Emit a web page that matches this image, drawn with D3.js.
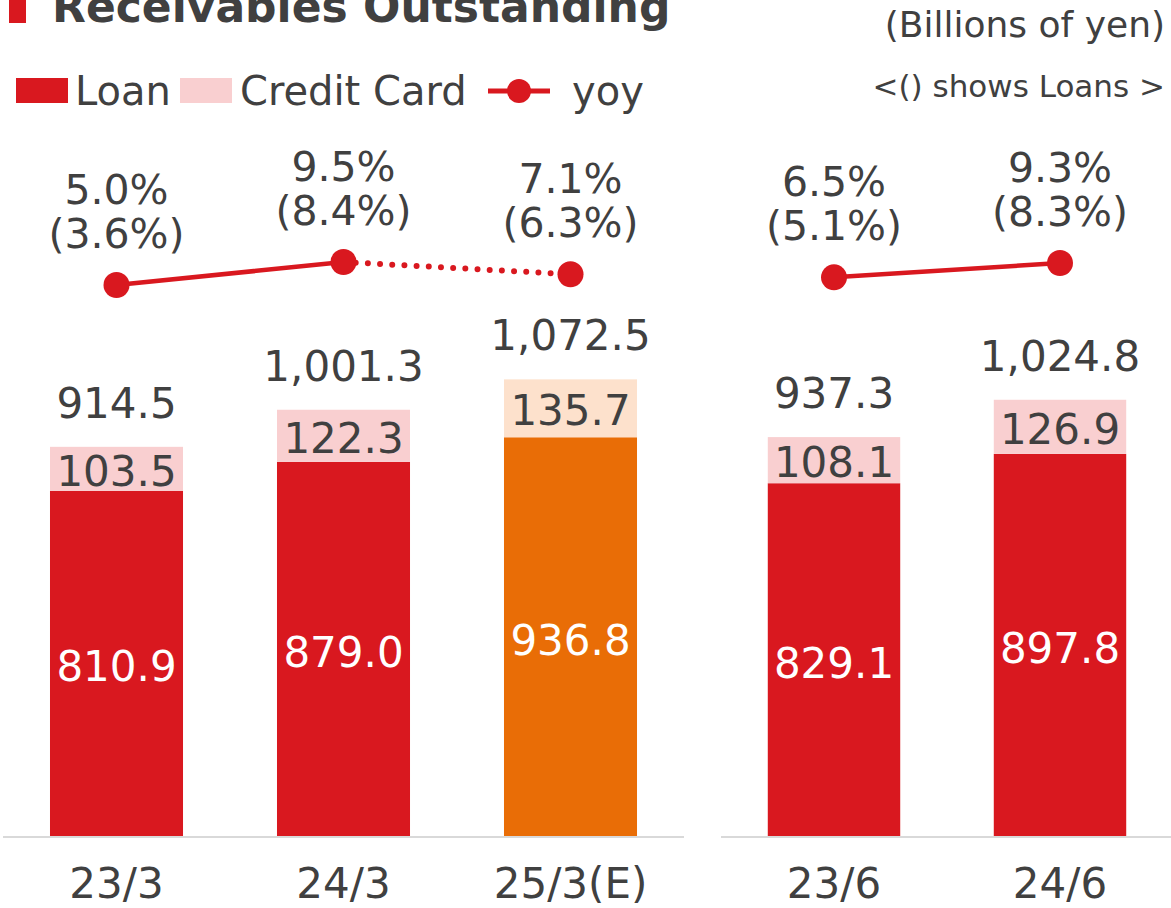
<!DOCTYPE html>
<html>
<head>
<meta charset="utf-8">
<script src="https://cdn.jsdelivr.net/npm/d3@7"></script>
<style>
  body { margin: 0; background: #fff; }
  svg text { font-family: "DejaVu Sans", Verdana, sans-serif; fill: #404040; }
</style>
</head>
<body>
<svg id="chart" width="1171" height="908"></svg>
<script>
/*************************Data********************* */
const periods = ["23/3", "24/3", "25/3(E)", "23/6", "24/6"];
const panels = ["fy", "fy", "fy", "q1", "q1"];
const loan = [810.9, 879.0, 936.8, 829.1, 897.8];
const credit = [103.5, 122.3, 135.7, 108.1, 126.9];
const totalLabels = ["914.5", "1,001.3", "1,072.5", "937.3", "1,024.8"];
const yoy = [5.0, 9.5, 7.1, 6.5, 9.3];
const yoyLoan = [3.6, 8.4, 6.3, 5.1, 8.3];
const estimate = [false, false, true, false, false];

const colors = {
  loan: "#d9181f",
  credit: "#f9cfd0",
  loanE: "#e96d06",
  creditE: "#fde1cc",
  line: "#d9181f",
  text: "#404040",
  axis: "#d9d9d9",
};

/*************************Scales********************* */
const svg = d3.select("svg#chart");
const baseY = 837;

const fyIdx = periods.filter((_, i) => panels[i] === "fy");
const q1Idx = periods.filter((_, i) => panels[i] === "q1");

const xFy = d3.scaleBand().domain(fyIdx).range([3, 684]).paddingInner(0.414).paddingOuter(0.207);
const xQ1 = d3.scaleBand().domain(q1Idx).range([721, 1173]).paddingInner(0.414).paddingOuter(0.207);
const xOf = (i) => (panels[i] === "fy" ? xFy : xQ1);
const xLeft = (i) => xOf(i)(periods[i]);
const xMid = (i) => xOf(i)(periods[i]) + xOf(i).bandwidth() / 2;

const y = d3.scaleLinear().domain([0, 1000]).range([baseY, 410.3]);
const yLine = d3.scaleLinear().domain([5, 9.5]).range([285, 262]);

/*************************Title & Legend********************* */
svg.append("rect").attr("x", 9).attr("y", 0).attr("width", 17).attr("height", 23).attr("fill", colors.loan);
svg.append("text").text("Receivables Outstanding").attr("x", 52).attr("y", 22)
  .style("font-weight", "bold").style("font-size", "44px");

svg.append("text").text("(Billions of yen)").attr("x", 1165).attr("y", 37)
  .attr("text-anchor", "end").style("font-size", "36px");
svg.append("text").text("<() shows Loans >").attr("x", 1165).attr("y", 97)
  .attr("text-anchor", "end").style("font-size", "31px");

const legend = svg.append("g").attr("class", "legend");
legend.append("rect").attr("x", 16).attr("y", 78).attr("width", 52).attr("height", 25).attr("fill", colors.loan);
legend.append("text").text("Loan").attr("x", 75).attr("y", 105).style("font-size", "40px");
legend.append("rect").attr("x", 180).attr("y", 78).attr("width", 52).attr("height", 25).attr("fill", colors.credit);
legend.append("text").text("Credit Card").attr("x", 240).attr("y", 105).style("font-size", "40px");
legend.append("line").attr("x1", 488).attr("x2", 550).attr("y1", 91).attr("y2", 91)
  .attr("stroke", colors.line).attr("stroke-width", 5);
legend.append("circle").attr("cx", 519).attr("cy", 91).attr("r", 12).attr("fill", colors.line);
legend.append("text").text("yoy").attr("x", 572).attr("y", 105).style("font-size", "40px");

/*************************Bars********************* */
const idx = d3.range(periods.length);
const bars = svg.append("g").attr("class", "bars");

bars.selectAll("rect.loan")
  .data(idx)
  .join("rect")
  .attr("class", "loan")
  .attr("x", (i) => xLeft(i))
  .attr("width", (i) => xOf(i).bandwidth())
  .attr("y", (i) => y(loan[i]))
  .attr("height", (i) => y(0) - y(loan[i]))
  .attr("fill", (i) => (estimate[i] ? colors.loanE : colors.loan));

bars.selectAll("rect.credit")
  .data(idx)
  .join("rect")
  .attr("class", "credit")
  .attr("x", (i) => xLeft(i))
  .attr("width", (i) => xOf(i).bandwidth())
  .attr("y", (i) => y(loan[i] + credit[i]))
  .attr("height", (i) => y(loan[i]) - y(loan[i] + credit[i]))
  .attr("fill", (i) => (estimate[i] ? colors.creditE : colors.credit));

// baselines
svg.append("line").attr("x1", 3).attr("x2", 684).attr("y1", baseY).attr("y2", baseY)
  .attr("stroke", colors.axis).attr("stroke-width", 2);
svg.append("line").attr("x1", 721).attr("x2", 1171).attr("y1", baseY).attr("y2", baseY)
  .attr("stroke", colors.axis).attr("stroke-width", 2);

/*************************Bar labels********************* */
const labels = svg.append("g").attr("class", "labels").attr("text-anchor", "middle").style("font-size", "42px");

labels.selectAll("text.loanLbl")
  .data(idx)
  .join("text")
  .attr("class", "loanLbl")
  .attr("x", (i) => xMid(i))
  .attr("y", (i) => (y(0) + y(loan[i])) / 2 + 17.5)
  .style("fill", "#fff")
  .text((i) => loan[i].toFixed(1));

labels.selectAll("text.creditLbl")
  .data(idx)
  .join("text")
  .attr("class", "creditLbl")
  .attr("x", (i) => xMid(i))
  .attr("y", (i) => (y(loan[i]) + y(loan[i] + credit[i])) / 2 + 17)
  .text((i) => credit[i].toFixed(1));

labels.selectAll("text.totalLbl")
  .data(idx)
  .join("text")
  .attr("class", "totalLbl")
  .attr("x", (i) => xMid(i))
  .attr("y", (i) => y(loan[i] + credit[i]) - 29)
  .text((i) => totalLabels[i]);

labels.selectAll("text.catLbl")
  .data(idx)
  .join("text")
  .attr("class", "catLbl")
  .attr("x", (i) => xMid(i))
  .attr("y", 898)
  .text((i) => periods[i]);

/*************************YoY line********************* */
const lineG = svg.append("g").attr("class", "yoy");
const seg = (a, b, dotted) => {
  lineG.append("line")
    .attr("x1", xMid(a)).attr("y1", yLine(yoy[a]))
    .attr("x2", xMid(b)).attr("y2", yLine(yoy[b]))
    .attr("stroke", colors.line)
    .attr("stroke-width", dotted ? 6 : 4.5)
    .attr("stroke-linecap", "round")
    .attr("stroke-dasharray", dotted ? "0 12.2" : null);
};
seg(0, 1, false);
seg(1, 2, true);
seg(3, 4, false);

lineG.selectAll("circle")
  .data(idx)
  .join("circle")
  .attr("cx", (i) => xMid(i))
  .attr("cy", (i) => yLine(yoy[i]))
  .attr("r", 13)
  .attr("fill", colors.line);

const pct = svg.append("g").attr("class", "pct").attr("text-anchor", "middle").style("font-size", "41px");
pct.selectAll("text.yoyLbl")
  .data(idx)
  .join("text")
  .attr("class", "yoyLbl")
  .attr("x", (i) => xMid(i))
  .attr("y", (i) => yLine(yoy[i]) - 81)
  .text((i) => `${yoy[i].toFixed(1)}%`);
pct.selectAll("text.loanYoyLbl")
  .data(idx)
  .join("text")
  .attr("class", "loanYoyLbl")
  .attr("x", (i) => xMid(i))
  .attr("y", (i) => yLine(yoy[i]) - 37)
  .text((i) => `(${yoyLoan[i].toFixed(1)}%)`);
</script>
</body>
</html>
